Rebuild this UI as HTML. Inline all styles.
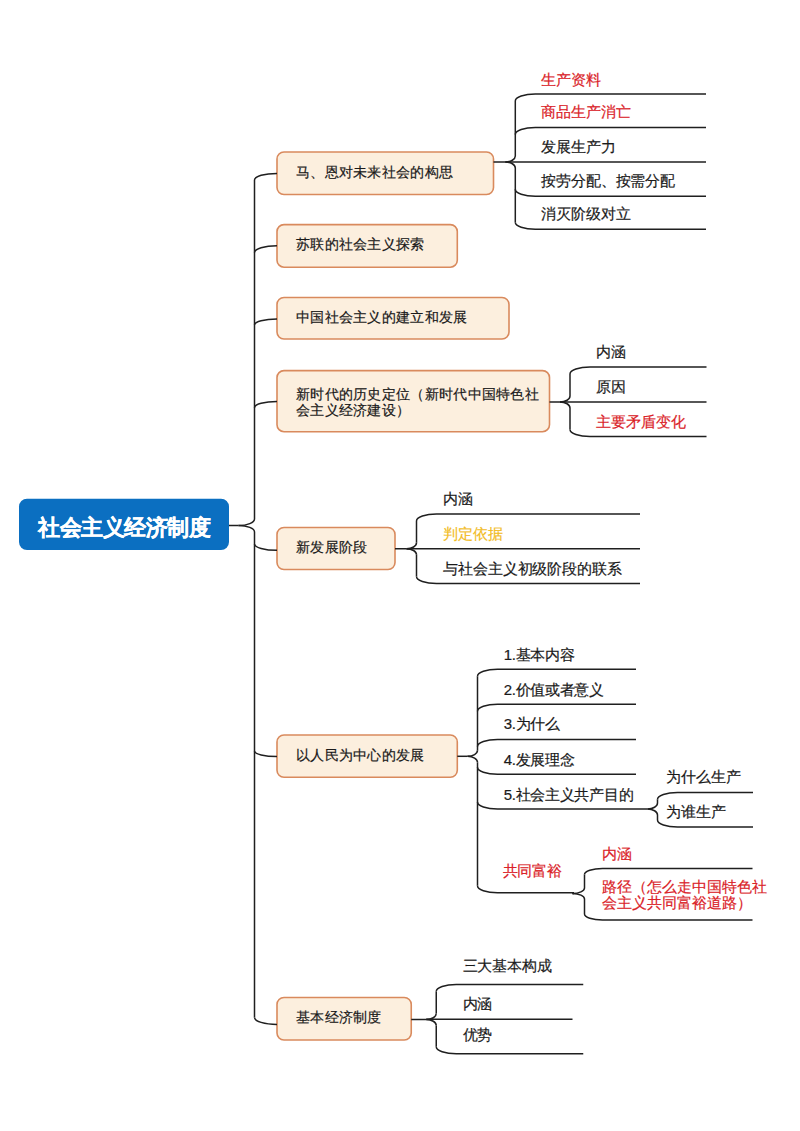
<!DOCTYPE html>
<html><head><meta charset="utf-8"><style>
html,body{margin:0;padding:0;background:#fff;}
body{width:800px;height:1131px;position:relative;overflow:hidden;font-family:"Liberation Sans",sans-serif;}
svg{position:absolute;left:0;top:0;}
.t{position:absolute;white-space:nowrap;-webkit-text-stroke:0.2px currentColor;}
</style></head><body>
<svg width="800" height="1131" viewBox="0 0 800 1131">
<rect x="19" y="498.7" width="210" height="51.3" rx="8" ry="8" fill="#0B6FC1"/>
<path d="M229,525.5 L238.5,525.5" fill="none" stroke="#1f1f1f" stroke-width="1.5"/>
<path d="M254.5,519 C254.5,522.59 247.33,525.5 238.5,525.5" fill="none" stroke="#1f1f1f" stroke-width="1.5"/>
<path d="M254.5,532 C254.5,528.41 247.33,525.5 238.5,525.5" fill="none" stroke="#1f1f1f" stroke-width="1.5"/>
<path d="M254.5,180 L254.5,519" fill="none" stroke="#1f1f1f" stroke-width="1.5"/>
<path d="M254.5,532 L254.5,1017.5" fill="none" stroke="#1f1f1f" stroke-width="1.5"/>
<rect x="277" y="152" width="216.50" height="42.50" rx="7" ry="7" fill="#FCEFDE" stroke="#D98A5D" stroke-width="1.6"/>
<path d="M254.5,180 C254.5,176.36 264.58,173.4 277,173.4" fill="none" stroke="#1f1f1f" stroke-width="1.5"/>
<rect x="277" y="224.6" width="180.30" height="42.60" rx="7" ry="7" fill="#FCEFDE" stroke="#D98A5D" stroke-width="1.6"/>
<path d="M254.5,252.6 C254.5,248.82 264.58,245.75 277,245.75" fill="none" stroke="#1f1f1f" stroke-width="1.5"/>
<rect x="277" y="297.5" width="232.00" height="41.50" rx="7" ry="7" fill="#FCEFDE" stroke="#D98A5D" stroke-width="1.6"/>
<path d="M254.5,325 C254.5,321.74 264.58,319.1 277,319.1" fill="none" stroke="#1f1f1f" stroke-width="1.5"/>
<rect x="277" y="370.6" width="272.50" height="61.10" rx="7" ry="7" fill="#FCEFDE" stroke="#D98A5D" stroke-width="1.6"/>
<path d="M254.5,407.7 C254.5,404.28 264.58,401.5 277,401.5" fill="none" stroke="#1f1f1f" stroke-width="1.5"/>
<rect x="277" y="527.5" width="118.00" height="42.00" rx="7" ry="7" fill="#FCEFDE" stroke="#D98A5D" stroke-width="1.6"/>
<path d="M254.5,543.9 C254.5,547.43 264.58,550.3 277,550.3" fill="none" stroke="#1f1f1f" stroke-width="1.5"/>
<rect x="277" y="735" width="180.30" height="42.30" rx="7" ry="7" fill="#FCEFDE" stroke="#D98A5D" stroke-width="1.6"/>
<path d="M254.5,751 C254.5,754.09 264.58,756.6 277,756.6" fill="none" stroke="#1f1f1f" stroke-width="1.5"/>
<rect x="277" y="997.5" width="134.25" height="42.50" rx="7" ry="7" fill="#FCEFDE" stroke="#D98A5D" stroke-width="1.6"/>
<path d="M254.5,1017.5 C254.5,1021.31 264.58,1024.4 277,1024.4" fill="none" stroke="#1f1f1f" stroke-width="1.5"/>
<path d="M515.3,156 C515.3,159.31 510.82,162 505.29999999999995,162" fill="none" stroke="#1f1f1f" stroke-width="1.5"/>
<path d="M515.3,168 C515.3,164.69 510.82,162 505.29999999999995,162" fill="none" stroke="#1f1f1f" stroke-width="1.5"/>
<path d="M493.5,162 L505.29999999999995,162" fill="none" stroke="#1f1f1f" stroke-width="1.5"/>
<path d="M515.3,101 L515.3,156" fill="none" stroke="#1f1f1f" stroke-width="1.5"/>
<path d="M515.3,168 L515.3,222.25" fill="none" stroke="#1f1f1f" stroke-width="1.5"/>
<path d="M515.3,101 C515.3,97.14 524.26,94 535.3,94 L706,94" fill="none" stroke="#1f1f1f" stroke-width="1.5"/>
<path d="M515.3,134.5 C515.3,130.64 524.26,127.5 535.3,127.5 L706,127.5" fill="none" stroke="#1f1f1f" stroke-width="1.5"/>
<path d="M505.29999999999995,162 L706,162" fill="none" stroke="#1f1f1f" stroke-width="1.5"/>
<path d="M515.3,189.25 C515.3,193.11 524.26,196.25 535.3,196.25 L706,196.25" fill="none" stroke="#1f1f1f" stroke-width="1.5"/>
<path d="M515.3,222.25 C515.3,226.11 524.26,229.25 535.3,229.25 L706,229.25" fill="none" stroke="#1f1f1f" stroke-width="1.5"/>
<path d="M570,396 C570,399.31 565.52,402 560,402" fill="none" stroke="#1f1f1f" stroke-width="1.5"/>
<path d="M570,408 C570,404.69 565.52,402 560,402" fill="none" stroke="#1f1f1f" stroke-width="1.5"/>
<path d="M549.5,402 L560,402" fill="none" stroke="#1f1f1f" stroke-width="1.5"/>
<path d="M570,374 L570,396" fill="none" stroke="#1f1f1f" stroke-width="1.5"/>
<path d="M570,408 L570,429.5" fill="none" stroke="#1f1f1f" stroke-width="1.5"/>
<path d="M570,374 C570,370.14 578.96,367 590,367 L706.5,367" fill="none" stroke="#1f1f1f" stroke-width="1.5"/>
<path d="M560,402 L706.5,402" fill="none" stroke="#1f1f1f" stroke-width="1.5"/>
<path d="M570,429.5 C570,433.36 578.96,436.5 590,436.5 L706.5,436.5" fill="none" stroke="#1f1f1f" stroke-width="1.5"/>
<path d="M416.5,542.75 C416.5,546.06 412.02,548.75 406.5,548.75" fill="none" stroke="#1f1f1f" stroke-width="1.5"/>
<path d="M416.5,554.75 C416.5,551.44 412.02,548.75 406.5,548.75" fill="none" stroke="#1f1f1f" stroke-width="1.5"/>
<path d="M395,548.75 L406.5,548.75" fill="none" stroke="#1f1f1f" stroke-width="1.5"/>
<path d="M416.5,521 L416.5,542.75" fill="none" stroke="#1f1f1f" stroke-width="1.5"/>
<path d="M416.5,554.75 L416.5,576.5" fill="none" stroke="#1f1f1f" stroke-width="1.5"/>
<path d="M416.5,521 C416.5,517.14 425.46,514 436.5,514 L640,514" fill="none" stroke="#1f1f1f" stroke-width="1.5"/>
<path d="M406.5,548.75 L640,548.75" fill="none" stroke="#1f1f1f" stroke-width="1.5"/>
<path d="M416.5,576.5 C416.5,580.36 425.46,583.5 436.5,583.5 L640,583.5" fill="none" stroke="#1f1f1f" stroke-width="1.5"/>
<path d="M477.5,750.3 C477.5,753.61 473.02,756.3 467.5,756.3" fill="none" stroke="#1f1f1f" stroke-width="1.5"/>
<path d="M477.5,762.3 C477.5,758.99 473.02,756.3 467.5,756.3" fill="none" stroke="#1f1f1f" stroke-width="1.5"/>
<path d="M457.3,756.3 L467.5,756.3" fill="none" stroke="#1f1f1f" stroke-width="1.5"/>
<path d="M477.5,676.25 L477.5,750.3" fill="none" stroke="#1f1f1f" stroke-width="1.5"/>
<path d="M477.5,762.3 L477.5,885.75" fill="none" stroke="#1f1f1f" stroke-width="1.5"/>
<path d="M477.5,676.25 C477.5,672.39 486.46,669.25 497.5,669.25 L636,669.25" fill="none" stroke="#1f1f1f" stroke-width="1.5"/>
<path d="M477.5,711.25 C477.5,707.39 486.46,704.25 497.5,704.25 L636,704.25" fill="none" stroke="#1f1f1f" stroke-width="1.5"/>
<path d="M477.5,746.5 C477.5,742.64 486.46,739.5 497.5,739.5 L636,739.5" fill="none" stroke="#1f1f1f" stroke-width="1.5"/>
<path d="M477.5,767.25 C477.5,771.11 486.46,774.25 497.5,774.25 L636,774.25" fill="none" stroke="#1f1f1f" stroke-width="1.5"/>
<path d="M477.5,802 C477.5,805.86 486.46,809 497.5,809 L647,809" fill="none" stroke="#1f1f1f" stroke-width="1.5"/>
<path d="M477.5,885.75 C477.5,889.61 486.46,892.75 497.5,892.75 L574,892.75" fill="none" stroke="#1f1f1f" stroke-width="1.5"/>
<path d="M657.5,803 C657.5,806.31 653.02,809 647.5,809" fill="none" stroke="#1f1f1f" stroke-width="1.5"/>
<path d="M657.5,815 C657.5,811.69 653.02,809 647.5,809" fill="none" stroke="#1f1f1f" stroke-width="1.5"/>
<path d="M647,809 L647.5,809" fill="none" stroke="#1f1f1f" stroke-width="1.5"/>
<path d="M657.5,799.4 L657.5,803" fill="none" stroke="#1f1f1f" stroke-width="1.5"/>
<path d="M657.5,815 L657.5,820" fill="none" stroke="#1f1f1f" stroke-width="1.5"/>
<path d="M657.5,799.4 C657.5,795.54 666.46,792.4 677.5,792.4 L753,792.4" fill="none" stroke="#1f1f1f" stroke-width="1.5"/>
<path d="M657.5,820 C657.5,823.86 666.46,827 677.5,827 L753,827" fill="none" stroke="#1f1f1f" stroke-width="1.5"/>
<path d="M584.5,888.0 C584.5,891.04 579.12,893.5 572.5,893.5" fill="none" stroke="#1f1f1f" stroke-width="1.5"/>
<path d="M584.5,899.0 C584.5,895.96 579.12,893.5 572.5,893.5" fill="none" stroke="#1f1f1f" stroke-width="1.5"/>
<path d="M574,893.5 L572.5,893.5" fill="none" stroke="#1f1f1f" stroke-width="1.5"/>
<path d="M584.5,874.5 L584.5,888.0" fill="none" stroke="#1f1f1f" stroke-width="1.5"/>
<path d="M584.5,899.0 L584.5,914" fill="none" stroke="#1f1f1f" stroke-width="1.5"/>
<path d="M584.5,874.5 C584.5,871.19 592.56,868.5 602.5,868.5 L752.5,868.5" fill="none" stroke="#1f1f1f" stroke-width="1.5"/>
<path d="M584.5,914 C584.5,917.31 592.56,920 602.5,920 L752.5,920" fill="none" stroke="#1f1f1f" stroke-width="1.5"/>
<path d="M436.25,1013.5 C436.25,1016.81 431.77,1019.5 426.25,1019.5" fill="none" stroke="#1f1f1f" stroke-width="1.5"/>
<path d="M436.25,1025.5 C436.25,1022.19 431.77,1019.5 426.25,1019.5" fill="none" stroke="#1f1f1f" stroke-width="1.5"/>
<path d="M411.25,1019.5 L426.25,1019.5" fill="none" stroke="#1f1f1f" stroke-width="1.5"/>
<path d="M436.25,991.5 L436.25,1013.5" fill="none" stroke="#1f1f1f" stroke-width="1.5"/>
<path d="M436.25,1025.5 L436.25,1046.75" fill="none" stroke="#1f1f1f" stroke-width="1.5"/>
<path d="M436.25,991.5 C436.25,987.64 445.21,984.5 456.25,984.5 L583.25,984.5" fill="none" stroke="#1f1f1f" stroke-width="1.5"/>
<path d="M426.25,1019.3 L572.5,1019.3" fill="none" stroke="#1f1f1f" stroke-width="1.5"/>
<path d="M436.25,1046.75 C436.25,1050.61 445.21,1053.75 456.25,1053.75 L583.25,1053.75" fill="none" stroke="#1f1f1f" stroke-width="1.5"/>
</svg>
<div class="t" style="left:38px;top:516.5px;font-size:22px;line-height:22px;letter-spacing:-0.5px;color:#fff;font-weight:bold">社会主义经济制度</div>
<div class="t" style="left:296px;top:165.2px;font-size:14px;line-height:14px;color:#1a1a1a;letter-spacing:0.3px">马、恩对未来社会的构思</div>
<div class="t" style="left:296px;top:237.3px;font-size:14px;line-height:14px;color:#1a1a1a;letter-spacing:0.3px">苏联的社会主义探索</div>
<div class="t" style="left:296px;top:309.7px;font-size:14px;line-height:14px;color:#1a1a1a;letter-spacing:0.3px">中国社会主义的建立和发展</div>
<div class="t" style="left:296px;top:385.6px;font-size:14px;line-height:16px;letter-spacing:0.3px;color:#1a1a1a">新时代的历史定位（新时代中国特色社<br>会主义经济建设）</div>
<div class="t" style="left:296px;top:540.3px;font-size:14px;line-height:14px;color:#1a1a1a;letter-spacing:0.3px">新发展阶段</div>
<div class="t" style="left:296px;top:747.7px;font-size:14px;line-height:14px;color:#1a1a1a;letter-spacing:0.3px">以人民为中心的发展</div>
<div class="t" style="left:296px;top:1009.9px;font-size:14px;line-height:14px;color:#1a1a1a;letter-spacing:0.3px">基本经济制度</div>
<div class="t" style="left:541px;top:71.5px;font-size:15px;line-height:15px;color:#DA2228;letter-spacing:-0.1px">生产资料</div>
<div class="t" style="left:541px;top:104px;font-size:15px;line-height:15px;color:#DA2228;letter-spacing:-0.1px">商品生产消亡</div>
<div class="t" style="left:541px;top:138.75px;font-size:15px;line-height:15px;color:#1a1a1a;letter-spacing:-0.1px">发展生产力</div>
<div class="t" style="left:541px;top:173.4px;font-size:15px;line-height:15px;color:#1a1a1a;letter-spacing:-0.1px">按劳分配、按需分配</div>
<div class="t" style="left:541px;top:206px;font-size:15px;line-height:15px;color:#1a1a1a;letter-spacing:-0.1px">消灭阶级对立</div>
<div class="t" style="left:596px;top:344px;font-size:15px;line-height:15px;color:#1a1a1a;letter-spacing:-0.1px">内涵</div>
<div class="t" style="left:596px;top:379px;font-size:15px;line-height:15px;color:#1a1a1a;letter-spacing:-0.1px">原因</div>
<div class="t" style="left:596px;top:414px;font-size:15px;line-height:15px;color:#DA2228;letter-spacing:-0.1px">主要矛盾变化</div>
<div class="t" style="left:443px;top:490.9px;font-size:15px;line-height:15px;color:#1a1a1a;letter-spacing:-0.1px">内涵</div>
<div class="t" style="left:443px;top:525.9px;font-size:15px;line-height:15px;color:#F2BC1F;letter-spacing:-0.1px">判定依据</div>
<div class="t" style="left:443px;top:560.9px;font-size:15px;line-height:15px;color:#1a1a1a;letter-spacing:-0.1px">与社会主义初级阶段的联系</div>
<div class="t" style="left:503.75px;top:647.25px;font-size:15px;line-height:15px;color:#1a1a1a;letter-spacing:-0.3px">1.基本内容</div>
<div class="t" style="left:503.75px;top:681.75px;font-size:15px;line-height:15px;color:#1a1a1a;letter-spacing:-0.3px">2.价值或者意义</div>
<div class="t" style="left:503.75px;top:716.25px;font-size:15px;line-height:15px;color:#1a1a1a;letter-spacing:-0.3px">3.为什么</div>
<div class="t" style="left:503.75px;top:751.5px;font-size:15px;line-height:15px;color:#1a1a1a;letter-spacing:-0.3px">4.发展理念</div>
<div class="t" style="left:503.75px;top:786.5px;font-size:15px;line-height:15px;color:#1a1a1a;letter-spacing:-0.3px">5.社会主义共产目的</div>
<div class="t" style="left:502.5px;top:862.75px;font-size:15px;line-height:15px;color:#DA2228;letter-spacing:-0.1px">共同富裕</div>
<div class="t" style="left:666px;top:769.3px;font-size:15px;line-height:15px;color:#1a1a1a;letter-spacing:-0.1px">为什么生产</div>
<div class="t" style="left:666px;top:803.6px;font-size:15px;line-height:15px;color:#1a1a1a;letter-spacing:-0.1px">为谁生产</div>
<div class="t" style="left:602px;top:845.5px;font-size:15px;line-height:15px;color:#DA2228;letter-spacing:-0.1px">内涵</div>
<div class="t" style="left:602px;top:879.4px;font-size:15px;line-height:16px;color:#DA2228">路径（怎么走中国特色社<br>会主义共同富裕道路）</div>
<div class="t" style="left:462.5px;top:957.5px;font-size:15px;line-height:15px;color:#1a1a1a;letter-spacing:-0.1px">三大基本构成</div>
<div class="t" style="left:462.5px;top:996px;font-size:15px;line-height:15px;color:#1a1a1a;letter-spacing:-0.1px">内涵</div>
<div class="t" style="left:462.5px;top:1027px;font-size:15px;line-height:15px;color:#1a1a1a;letter-spacing:-0.1px">优势</div>
</body></html>
